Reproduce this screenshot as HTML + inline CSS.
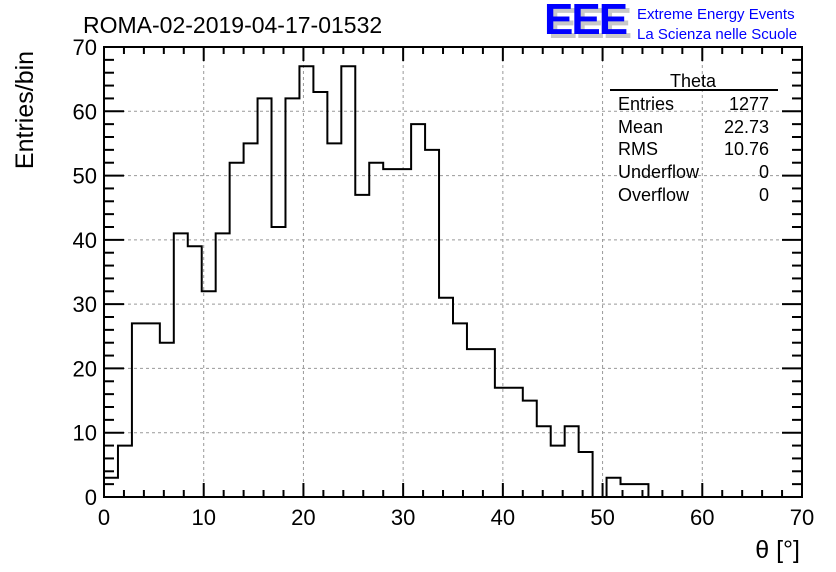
<!DOCTYPE html>
<html><head><meta charset="utf-8"><style>
body{margin:0;background:#fff;}
svg{display:block;font-family:"Liberation Sans",sans-serif;}
</style></head><body>
<svg id="c" width="836" height="572">
<text x="83" y="33" font-size="23">ROMA-02-2019-04-17-01532</text>
<g>
<text x="548" y="38" font-size="44" fill="#c8c8c8" font-weight="bold" letter-spacing="-2">EEE</text>
<text x="544" y="34" font-size="44" fill="#0000ff" font-weight="bold" letter-spacing="-2">EEE</text>
<text x="637" y="19" font-size="15" fill="#0000ff">Extreme Energy Events</text>
<text x="637" y="39" font-size="15" fill="#0000ff">La Scienza nelle Scuole</text>
</g>
<g id="grid"></g>
<path id="hist" fill="none" stroke="#000" stroke-width="2"></path>
<g id="axes"></g>
<g>
<text x="693" y="87" font-size="18" text-anchor="middle">Theta</text>
<line x1="610" y1="90" x2="778" y2="90" stroke="#000" stroke-width="2"/>
<g font-size="18">
<text x="618" y="110">Entries</text><text x="769" y="110" text-anchor="end">1277</text>
<text x="618" y="133">Mean</text><text x="769" y="133" text-anchor="end">22.73</text>
<text x="618" y="155">RMS</text><text x="769" y="155" text-anchor="end">10.76</text>
<text x="618" y="178">Underflow</text><text x="769" y="178" text-anchor="end">0</text>
<text x="618" y="201">Overflow</text><text x="769" y="201" text-anchor="end">0</text>
</g></g>
<text x="33" y="110" font-size="25" transform="rotate(-90 33 110)" text-anchor="middle">Entries/bin</text>
<text x="800" y="558" font-size="25" text-anchor="end">θ [°]</text>
</svg>
<script>
const binWidth = 1.4;
const counts = [3,8,27,27,24,41,39,32,41,52,55,62,42,62,67,63,55,67,47,52,51,51,58,54,31,27,23,23,17,17,15,11,8,11,7,0,3,2,2,0,0,0,0,0,0,0,0,0,0,0];
const xTicks = [0,10,20,30,40,50,60,70];
const yTicks = [0,10,20,30,40,50,60,70];
const L=104,R=802,T=47,B=497;
const xs=v=>L+(R-L)*v/70;
const ys=v=>B-(B-T)*v/70;
const ns="http://www.w3.org/2000/svg";
const grid=document.getElementById('grid'), axes=document.getElementById('axes');
function mk(tag,attrs,parent){const e=document.createElementNS(ns,tag);for(const k in attrs)e.setAttribute(k,attrs[k]);parent.appendChild(e);return e;}
xTicks.forEach(t=>{
  if(t>0&&t<70){const g=mk('line',{x1:xs(t),x2:xs(t),y1:T,y2:B,stroke:'#999','stroke-dasharray':'3,3'},grid);
  
  }
  const tx=mk('text',{x:xs(t),y:525,'font-size':22,'text-anchor':'middle'},axes);tx.textContent=t;
  
  
});
yTicks.forEach(t=>{
  if(t>0&&t<70){const g=mk('line',{x1:L,x2:R,y1:ys(t),y2:ys(t),stroke:'#999','stroke-dasharray':'3,3'},grid);
  
  }
  const tx=mk('text',{x:97,y:ys(t)+8,'font-size':22,'text-anchor':'end'},axes);tx.textContent=t;
  
  
});
for(let v=0;v<=70;v+=2){const len=v%10===0?14:7;
  mk('line',{x1:xs(v),x2:xs(v),y1:B,y2:B-len,stroke:'#000','stroke-width':2},axes);
  mk('line',{x1:xs(v),x2:xs(v),y1:T,y2:T+len,stroke:'#000','stroke-width':2},axes);}
for(let v=0;v<=70;v+=2){const len=v%10===0?20:10;
  mk('line',{x1:L,x2:L+len,y1:ys(v),y2:ys(v),stroke:'#000','stroke-width':2},axes);
  mk('line',{x1:R,x2:R-len,y1:ys(v),y2:ys(v),stroke:'#000','stroke-width':2},axes);}
const fr=mk('rect',{x:L,y:T,width:R-L,height:B-T,fill:'none',stroke:'#000','stroke-width':2},axes);


let d=`M${xs(0)},${ys(0)}`;
counts.forEach((c,i)=>{d+=` L${xs(i*binWidth)},${ys(c)} L${xs((i+1)*binWidth)},${ys(c)}`;});
document.getElementById('hist').setAttribute('d',d);
</script>
</body></html>
